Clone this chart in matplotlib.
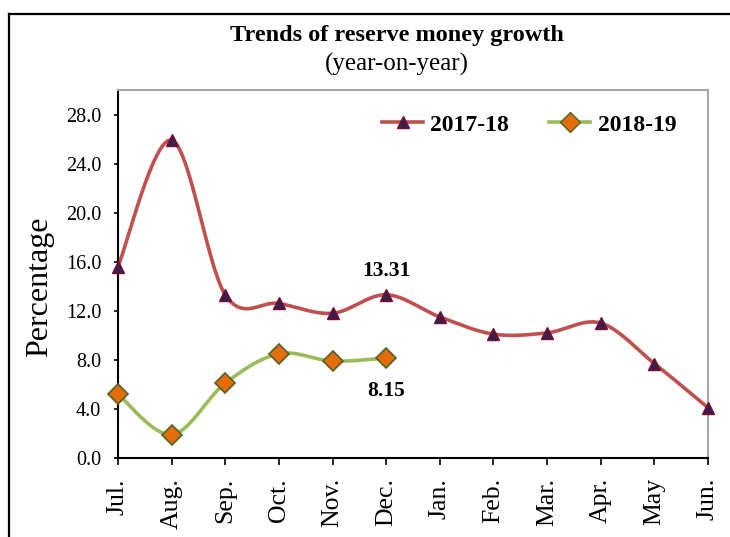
import numpy as np
import matplotlib
matplotlib.use("Agg")
import matplotlib.pyplot as plt
from matplotlib.lines import Line2D

months = ["Jul.", "Aug.", "Sep.", "Oct.", "Nov.", "Dec.", "Jan.", "Feb.", "Mar.", "Apr.", "May", "Jun."]
fy1718 = [15.6, 25.9, 13.3, 12.6, 11.8, 13.31, 11.5, 10.1, 10.2, 11.0, 7.7, 4.1]
fy1819 = [5.2, 1.9, 6.1, 8.5, 7.9, 8.15]
yticks = [0, 4, 8, 12, 16, 20, 24, 28]

plt.rcParams['font.family'] = ['Liberation Serif', 'DejaVu Serif']


def smooth(y, n=40):
    y = np.asarray(y, dtype=float)
    x = np.arange(len(y), dtype=float)
    xs, ys = [], []
    t = np.linspace(0, 1, n)
    bez = lambda a, b_, c, d: (1 - t) ** 3 * a + 3 * (1 - t) ** 2 * t * b_ + 3 * (1 - t) * t ** 2 * c + t ** 3 * d
    for i in range(len(y) - 1):
        p0 = y[i - 1] if i > 0 else y[i]
        p1, p2 = y[i], y[i + 1]
        p3 = y[i + 2] if i + 2 < len(y) else y[i + 1]
        c1 = p1 + (p2 - p0) / 6.0
        c2 = p2 - (p3 - p1) / 6.0
        x0, x1 = x[i], x[i + 1]
        xm = x[i - 1] if i > 0 else x0
        xp = x[i + 2] if i + 2 < len(y) else x1
        xc1 = x0 + (x1 - xm) / 6.0
        xc2 = x1 - (xp - x0) / 6.0
        xs.append(bez(x0, xc1, xc2, x1))
        ys.append(bez(p1, c1, c2, p2))
    return np.concatenate(xs), np.concatenate(ys)


fig = plt.figure(figsize=(7.30, 5.37), dpi=100)
ax = fig.add_axes([118 / 730, 1 - 458 / 537, (708 - 118) / 730, (458 - 90) / 537])

red = "#C0504D"
green = "#9BBB59"

sx, sy = smooth(fy1718)
ax.plot(sx, sy, color=red, lw=2.6, solid_capstyle='round', zorder=2)
ax.plot(np.arange(len(fy1718)), fy1718, ls='none', marker='^', ms=9,
        mfc="#3B1E4A", mec="#7A0A32", mew=1.0, zorder=3, clip_on=False)

gx, gy = smooth(fy1819)
ax.plot(gx, gy, color=green, lw=2.6, solid_capstyle='round', zorder=2)
ax.plot(np.arange(len(fy1819)), fy1819, ls='none', marker='D', ms=10,
        mfc="#E46C0A", mec="#4F6228", mew=1.2, zorder=3, clip_on=False)

ax.text(5, 14.4, "13.31", ha='center', va='bottom', fontsize=15.5, fontweight='bold')
ax.text(5, 6.3, "8.15", ha='center', va='top', fontsize=15.5, fontweight='bold')

ax.set_xlim(0, len(months) - 1)
ax.set_ylim(0, 30)
ax.set_yticks(yticks)
ax.set_yticklabels([f"{v:.1f}" for v in yticks], fontsize=14.5)
ax.set_xticks(np.arange(len(months)))
ax.set_xticklabels(months, rotation=90, fontsize=18.5)
ax.tick_params(axis='both', direction='out', width=1.2, color='black')
ax.tick_params(axis='x', length=5, pad=9.5)
ax.tick_params(axis='y', length=3, pad=9)
ax.set_ylabel("Percentage", fontsize=23)
ax.yaxis.set_label_coords(-0.108, (458 - 287) / 368)

for s in ['left', 'bottom']:
    ax.spines[s].set_color('black')
    ax.spines[s].set_linewidth(1.5)
for s in ['top', 'right']:
    ax.spines[s].set_color('#A6A6A6')
    ax.spines[s].set_linewidth(1.5)

h1 = Line2D([], [], color=red, lw=2.6, marker='^', ms=9, mfc="#3B1E4A", mec="#7A0A32")
h2 = Line2D([], [], color=green, lw=2.6, marker='D', ms=10, mfc="#E46C0A", mec="#4F6228")
fig.legend([h1, h2], ["2017-18", "2018-19"], loc='center', bbox_to_anchor=(529 / 730, 1 - 125 / 537),
           ncol=2, frameon=False, prop={'size': 17, 'weight': 'bold'},
           handlelength=1.75, handletextpad=0.3, columnspacing=1.7)

fig.text(397 / 730, 1 - 35 / 537, "Trends of reserve money growth", ha='center', va='center',
         fontsize=17.5, fontweight='bold')
fig.text(397 / 730, 1 - 64 / 537, "(year-on-year)", ha='center', va='center', fontsize=18)

fig.add_artist(Line2D([8.5 / 730, 8.5 / 730], [0, 1 - 14 / 537], transform=fig.transFigure,
                      color='black', lw=1.6))
fig.add_artist(Line2D([8.5 / 730, 1], [1 - 14 / 537, 1 - 14 / 537], transform=fig.transFigure,
                      color='black', lw=1.6))

fig.savefig("out.png", dpi=100)
